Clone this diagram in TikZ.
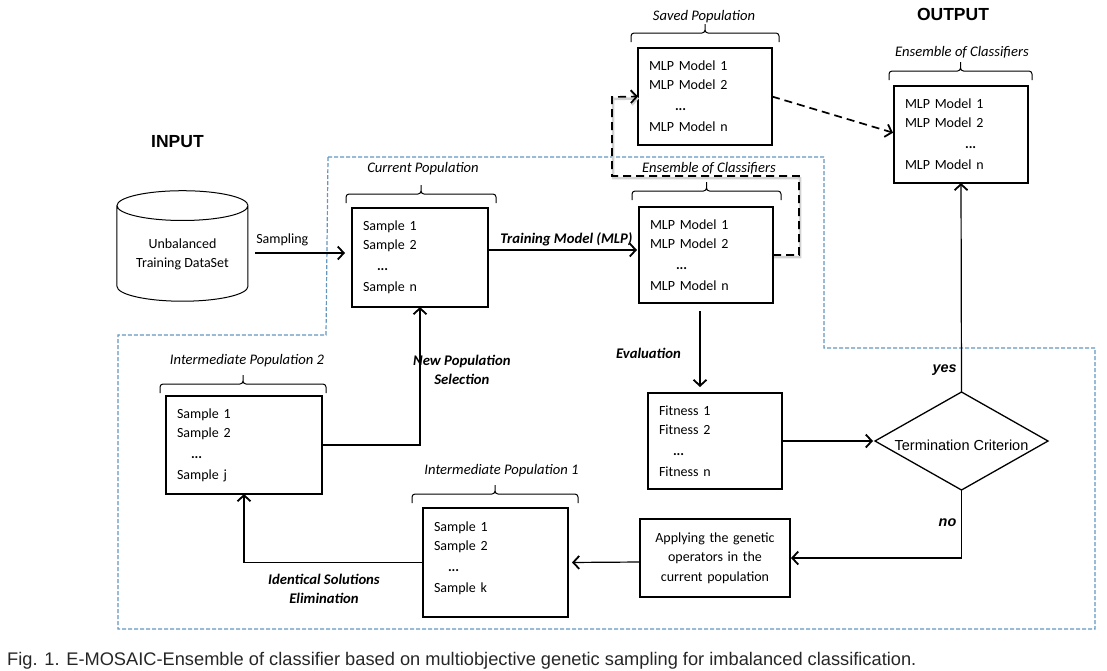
\documentclass[tikz,border=0pt]{standalone}
\usepackage{fontspec}
\setmainfont{Carlito}
\newfontfamily\headfont{Liberation Sans}
\usetikzlibrary{positioning,shapes.geometric,arrows.meta,calc}

\definecolor{regionblue}{RGB}{100,150,190}
\tikzset{
  popbox/.style 2 args={draw, line width=1.3pt, outer sep=0pt, inner xsep=11pt, inner ysep=0pt,
    align=left, font=\fontsize{14}{19}\selectfont, text width=#1, minimum height=#2},
  popbrace/.style={line width=1pt, rounded corners=3pt, to path={
    -- ($(\tikztostart)+(0pt,9pt)$) -- ($(\tikztostart)!.5!(\tikztotarget)+(0pt,9pt)$)
    -- ($(\tikztostart)!.5!(\tikztotarget)+(0pt,18pt)$)
    ($(\tikztostart)!.5!(\tikztotarget)+(0pt,18pt)$)
    -- ($(\tikztostart)!.5!(\tikztotarget)+(0pt,9pt)$) -- ($(\tikztotarget)+(0pt,9pt)$)
    -- (\tikztotarget)}},
  poplabel/.style={font=\fontsize{14.6}{16}\selectfont\itshape, inner sep=0pt},
  steplabel/.style={font=\fontsize{14.7}{19.3}\selectfont\bfseries\itshape, align=center, inner sep=0pt},
  answerlabel/.style={font=\fontsize{14.4}{16}\selectfont\headfont\bfseries\itshape, inner sep=0pt},
  headlabel/.style={font=\fontsize{17.5}{20}\selectfont\headfont\bfseries, inner sep=0pt},
  flow/.style={line width=1.2pt, -{Straight Barb[length=6pt,width=13pt,line width=1.8pt]}},
  dashflow/.style={flow, dash pattern=on 8pt off 5pt, line width=1.7pt},
  region/.style={draw=regionblue, line width=1.2pt, dash pattern=on 4pt off 2pt}
}

\newcommand{\dotrow}[1]{\hspace*{#1}\textbf{...}}

\begin{document}
\begin{tikzpicture}[x=1pt, y=-1pt]
  \useasboundingbox (0,0) rectangle (1107,670);

  % Dashed region
  \draw[region] (328,157) -- (824,157) -- (824,348) -- (1095,348) -- (1095,629)
    -- (118,629) -- (118,335) -- (326,335) -- cycle;

  % Define nodes
  \node[popbox={114pt}{99pt}] (current) at (420,257.5)
    {Sample 1\\Sample 2\\[2pt]\dotrow{14pt}\\[2pt]Sample n};
  \node[draw, line width=1pt, cylinder, shape border rotate=90, aspect=0.3, outer sep=0pt,
    minimum width=131pt, minimum height=110.5pt, align=center,
    font=\fontsize{14}{19.3}\selectfont, left=104pt of current, yshift=1.5pt] (db)
    {Unbalanced\\Training DataSet\\[-14pt]\mbox{}};
  \node[popbox={112pt}{96pt}, right=151pt of current, yshift=2.5pt] (ensemble)
    {MLP Model 1\\MLP Model 2\\[2pt]\dotrow{26pt}\\[2pt]MLP Model n};
  \node[popbox={112pt}{97pt}, above=62pt of ensemble, xshift=-1pt] (saved)
    {MLP Model 1\\MLP Model 2\\[2pt]\dotrow{26pt}\\[2pt]MLP Model n};
  \node[popbox={112pt}{97pt}, right=122pt of saved, yshift=-38pt] (final)
    {MLP Model 1\\MLP Model 2\\[2pt]\dotrow{60pt}\\[2pt]MLP Model n};
  \node[popbox={112pt}{96pt}, below=90pt of ensemble, xshift=9pt] (fitness)
    {Fitness 1\\Fitness 2\\[2pt]\dotrow{14pt}\\[2pt]Fitness n};
  \node[draw, line width=1.3pt, diamond, aspect=1.77, outer sep=0pt, inner sep=0pt,
    minimum width=173pt, minimum height=98pt, font=\fontsize{14.5}{16}\selectfont\headfont,
    right=93pt of fitness] (criterion) {\raisebox{-9pt}[0pt][0pt]{Termination Criterion}};
  \node[draw, line width=1.3pt, outer sep=0pt, inner sep=0pt, align=center, text width=150pt,
    minimum height=78pt, font=\fontsize{14}{19.3}\selectfont, below=30pt of fitness] (genetic)
    {Applying the genetic\\operators in the\\current population};
  \node[popbox={123pt}{109pt}, left=72pt of genetic, yshift=-4.5pt] (interone)
    {Sample 1\\Sample 2\\[2pt]\dotrow{14pt}\\[2pt]Sample k\\[-8pt]\mbox{}};
  \node[popbox={134pt}{98pt}, left=101pt of interone, yshift=117.5pt] (intertwo)
    {Sample 1\\Sample 2\\[2pt]\dotrow{14pt}\\[2pt]Sample j};

  % Braces and their names
  \draw[popbrace] ([shift={(-7pt,6pt)}]saved.north west) to ([shift={(7pt,6pt)}]saved.north east);
  \draw[popbrace] ([shift={(-5pt,6pt)}]final.north west) to ([shift={(4pt,6pt)}]final.north east);
  \draw[popbrace] ([shift={(-7pt,7pt)}]ensemble.north west) to ([shift={(8pt,7pt)}]ensemble.north east);
  \draw[popbrace] ([shift={(-6pt,5pt)}]current.north west) to ([shift={(8pt,5pt)}]current.north east);
  \draw[popbrace] ([shift={(-6pt,3pt)}]intertwo.north west) to ([shift={(4pt,3pt)}]intertwo.north east);
  \draw[popbrace] ([shift={(-11pt,5pt)}]interone.north west) to ([shift={(10pt,5pt)}]interone.north east);
  \node[poplabel, above=25pt of saved, xshift=-1pt] (savedname) {Saved Population};
  \node[poplabel, above=28pt of final, xshift=1pt] (finalname) {Ensemble of Classifiers};
  \node[poplabel, above=33pt of ensemble, xshift=3pt] (ensemblename) {Ensemble of Classifiers};
  \node[poplabel, above=33pt of current, xshift=3pt] (currentname) {Current Population};
  \node[poplabel, above=29pt of intertwo, xshift=3pt] (intertwoname) {Intermediate Population 2};
  \node[poplabel, above=31pt of interone, xshift=6pt] (interonename) {Intermediate Population 1};
  \node[headlabel, above=65pt of final, xshift=-8pt] (outputname) {OUTPUT};
  \node[headlabel, above=43pt of db, xshift=-5pt] (inputname) {INPUT};

  % Connect the nodes
  \draw[flow, shorten <=7pt, shorten >=7pt] ([yshift=3pt]db.east) -- ([yshift=4.5pt]current.west)
    node[font=\fontsize{14}{16}\selectfont, pos=0.33, above=3pt] (samplingname) {Sampling};
  \draw[flow, shorten >=2pt] ([yshift=7.5pt]current.east) -- ([yshift=5pt]ensemble.west)
    node[steplabel, midway, above=3pt, xshift=3pt] (trainingname) {Training Model (MLP)};
  \draw[flow, shorten <=8pt, shorten >=6pt] (ensemble.south -| 700,0) -- (fitness.north -| 700,0);
  \draw[flow, shorten >=2pt] (fitness.east) -- (criterion.west);
  \draw[flow] (criterion.north) -- (final.south);
  \draw[flow, shorten >=1pt] (criterion.south) |- (genetic.east);
  \draw[flow, shorten >=4pt] ([yshift=-4pt]genetic.west) -- (interone.east);
  \draw[flow] (interone.west) -| (intertwo.south);
  \draw[flow] (intertwo.east) -| (current.south);

  % Dashed arrows
  \draw[dashflow, shorten >=1pt] (saved.east) -- ([yshift=1.5pt]final.west);
  \draw[dashflow, preaction={draw=black!18, line width=2.5pt, transform canvas={shift={(1pt,-2pt)}}}]
    (ensemble.east) -- ++(26,0) -- ++(0,-79) -- ++(-187,0) -- ++(0,-79) -- (saved.west);

  % Step names
  \node[steplabel, left=34pt of fitness.north, yshift=40pt] (evaluationname) {Evaluation};
  \node[steplabel, right=-7pt of current.south, yshift=-63pt] (selectionname) {New Population\\Selection};
  \node[steplabel, below=80pt of intertwo.south, xshift=80pt] (identicalname) {Identical Solutions\\Elimination};
  \node[answerlabel, above=16pt of criterion.north, xshift=-17pt] (yesname) {yes};
  \node[answerlabel, below=29pt of criterion.south, xshift=-14pt] (noname) {no};

  % Caption
  \node[anchor=base west, inner sep=0pt, text=black!85, font=\fontsize{18.25}{20}\selectfont\headfont] (caption) at (7,665)
    {Fig. 1. E-MOSAIC-Ensemble of classifier based on multiobjective genetic sampling for imbalanced classification.};
\end{tikzpicture}
\end{document}
